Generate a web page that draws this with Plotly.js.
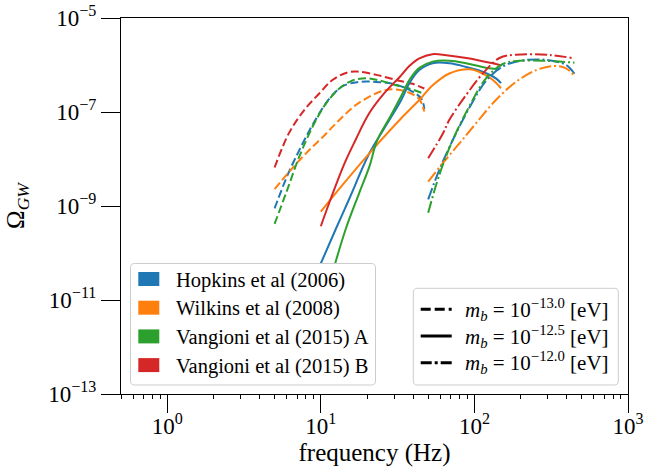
<!DOCTYPE html>
<html><head><meta charset="utf-8">
<script src="https://cdn.plot.ly/plotly-3.0.1.min.js"></script>
<style>html,body{margin:0;padding:0;background:#fff;} #chart{width:661px;height:470px;}</style>
</head><body><div id="chart"></div>
<script>
// ---------------- DATA ----------------
const models = ['Hopkins et al (2006)', 'Wilkins et al (2008)', 'Vangioni et al (2015) A', 'Vangioni et al (2015) B'];
const modelColors = ['#1f77b4', '#ff7f0e', '#2ca02c', '#d62728'];
const massLabels = ['10<sup>−13.0</sup>', '10<sup>−12.5</sup>', '10<sup>−12.0</sup>'];
const xTickVals = [1, 10, 100, 1000];
const xTickText = ['10<sup>0</sup>', '10<sup>1</sup>', '10<sup>2</sup>', '10<sup>3</sup>'];
const xMinorVals = [0.5, 0.6, 0.7, 0.8, 0.9, 2, 3, 4, 5, 6, 7, 8, 9, 20, 30, 40, 50, 60, 70, 80, 90, 200, 300, 400, 500, 600, 700, 800, 900];
const yTickVals = [1e-13, 1e-11, 1e-9, 1e-7, 1e-5];
const yTickText = ['10<sup>−13</sup>', '10<sup>−11</sup>', '10<sup>−9</sup>', '10<sup>−7</sup>', '10<sup>−5</sup>'];

// m_b = 10^-13.0 [eV]
const f_m130_hopkins = [5, 6.08, 7.43, 9.07, 11.4, 13.9, 17.8, 22.9, 29.4, 37.7, 45.0, 47.2];
const o_m130_hopkins = [8.9e-10, 4.57e-9, 1.82e-8, 6.17e-8, 1.95e-7, 3.55e-7, 4.37e-7, 4.37e-7, 3.98e-7, 2.95e-7, 1.95e-7, 1.15e-7];
const f_m130_wilkins = [5, 6.23, 8.01, 10.3, 13.2, 16.9, 21.7, 26.6, 30.9, 37.7, 43.8, 47.2];
const o_m130_wilkins = [2.29e-9, 5.37e-9, 1.32e-8, 2.95e-8, 6.76e-8, 1.41e-7, 2.29e-7, 2.95e-7, 3.02e-7, 2.57e-7, 1.86e-7, 1.02e-7];
const f_m130_vangA = [5, 5.93, 7.24, 8.85, 10.8, 13.2, 16.1, 19.7, 24.0, 30.9, 37.7, 46.0];
const o_m130_vangA = [4.17e-10, 1.86e-9, 1.12e-8, 4.9e-8, 1.51e-7, 3.16e-7, 4.68e-7, 5.25e-7, 4.68e-7, 3.72e-7, 3.16e-7, 2.51e-7];
const f_m130_vangB = [5, 6.2, 7.8, 9.8, 11.9, 14.9, 17.3, 23.0, 31.0, 39.5, 47.2];
const o_m130_vangB = [6.6e-9, 3.55e-8, 1.1e-7, 2.51e-7, 4.79e-7, 6.92e-7, 7.24e-7, 6.17e-7, 4.79e-7, 3.98e-7, 3.16e-7];

// m_b = 10^-12.5 [eV]
const f_m125_hopkins = [10, 12.6, 15.3, 20.7, 25.9, 33.4, 37.7, 43.8, 53.5, 68.7, 88.3, 113, 138, 149];
const o_m125_hopkins = [6.0e-11, 3.4e-10, 1.41e-9, 1.32e-8, 4.5e-8, 1.8e-7, 4.1e-7, 7.8e-7, 1.09e-6, 1.09e-6, 9.1e-7, 7.2e-7, 5.2e-7, 4.1e-7];
const f_m125_wilkins = [10, 14.2, 20.7, 34.1, 43.8, 53.5, 68.7, 92.7, 113, 132, 149];
const o_m125_wilkins = [7.6e-10, 3.1e-9, 1.32e-8, 7.9e-8, 1.8e-7, 3.7e-7, 6.6e-7, 8.1e-7, 6.6e-7, 4.8e-7, 3.2e-7];
const f_m125_vangA = [12.4, 14.6, 17.8, 20.7, 23.3, 28.4, 34.1, 37.7, 43.8, 53.5, 68.7, 88.3, 125, 145];
const o_m125_vangA = [6.0e-11, 3.4e-10, 1.91e-9, 6.9e-9, 2.51e-8, 8.1e-8, 2.51e-7, 4.8e-7, 8.7e-7, 1.18e-6, 1.23e-6, 1.09e-6, 8.5e-7, 8.1e-7];
const f_m125_vangB = [10, 11.65, 14.2, 16.8, 20.7, 25.9, 32.5, 37.7, 43.8, 53.2, 65.7, 88.7, 129, 150];
const o_m125_vangB = [3.7e-10, 1.48e-9, 7.8e-9, 2.51e-8, 9.5e-8, 2.51e-7, 5.5e-7, 9.5e-7, 1.38e-6, 1.7e-6, 1.62e-6, 1.41e-6, 1.1e-6, 9.8e-7];

// m_b = 10^-12.0 [eV]
const f_m120_hopkins = [50, 59.1, 72.2, 92.7, 119, 153, 196, 293, 395, 448];
const o_m120_hopkins = [1.38e-9, 5.9e-9, 2.51e-8, 1.23e-7, 4.6e-7, 9.3e-7, 1.22e-6, 1.29e-6, 1.0e-6, 6.5e-7];
const f_m120_wilkins = [50, 62.1, 79.8, 102.6, 138, 187, 253, 324, 395, 448];
const o_m120_wilkins = [3.3e-9, 8.1e-9, 2.14e-8, 5.8e-8, 1.8e-7, 4.4e-7, 7.8e-7, 9.5e-7, 8.5e-7, 5.9e-7];
const f_m120_vangA = [50, 59.1, 72.2, 92.7, 119, 153, 196, 299, 448];
const o_m120_vangA = [7.2e-10, 4.6e-9, 2.51e-8, 1.32e-7, 5.2e-7, 1.05e-6, 1.23e-6, 1.22e-6, 1.12e-6];
const f_m120_vangB = [50, 62.1, 68.7, 88.3, 113, 145.5, 187, 308, 448];
const o_m120_vangB = [1.04e-8, 3.4e-8, 6.8e-8, 2.3e-7, 6.5e-7, 1.41e-6, 1.66e-6, 1.63e-6, 1.38e-6];

// ---------------- STYLE / LAYOUT ----------------
const FONT = 'Liberation Serif';
const massDashes = ['8px,3.5px', 'solid', '12px,3px,2px,3px'];
const legendDashes = ['10px,4px', 'solid', '11px,3px,3px,3px'];
const groups = [
  [[f_m130_hopkins, o_m130_hopkins], [f_m130_wilkins, o_m130_wilkins], [f_m130_vangA, o_m130_vangA], [f_m130_vangB, o_m130_vangB]],
  [[f_m125_hopkins, o_m125_hopkins], [f_m125_wilkins, o_m125_wilkins], [f_m125_vangA, o_m125_vangA], [f_m125_vangB, o_m125_vangB]],
  [[f_m120_hopkins, o_m120_hopkins], [f_m120_wilkins, o_m120_wilkins], [f_m120_vangA, o_m120_vangA], [f_m120_vangB, o_m120_vangB]]
];

const traces = [];
groups.forEach((grp, gi) => {
  grp.forEach((xy, mi) => {
    traces.push({
      type: 'scatter', mode: 'lines', x: xy[0], y: xy[1],
      line: {color: modelColors[mi], width: 2, dash: massDashes[gi], shape: 'spline', smoothing: 1},
      showlegend: false, hoverinfo: 'skip'
    });
  });
});

// plot area in pixels
const W = 661, H = 470, L = 121, R = 628, T = 18, B = 394;
const px = v => (v - L) / (R - L);
const py = v => (B - v) / (B - T);

function roundRect(x0, y0, x1, y1, r) {
  const P = (x, y) => px(x).toFixed(5) + ',' + py(y).toFixed(5);
  return 'M' + P(x0 + r, y0) + ' L' + P(x1 - r, y0) + ' Q' + P(x1, y0) + ' ' + P(x1, y0 + r) +
    ' L' + P(x1, y1 - r) + ' Q' + P(x1, y1) + ' ' + P(x1 - r, y1) +
    ' L' + P(x0 + r, y1) + ' Q' + P(x0, y1) + ' ' + P(x0, y1 - r) +
    ' L' + P(x0, y0 + r) + ' Q' + P(x0, y0) + ' ' + P(x0 + r, y0) + ' Z';
}

const shapes = [];
const annotations = [];

// legend 1: models
shapes.push({type: 'path', xref: 'paper', yref: 'paper', path: roundRect(130.5, 263.5, 375.5, 385, 4),
  fillcolor: 'rgba(255,255,255,0.8)', line: {color: '#cccccc', width: 1}, layer: 'above'});
models.forEach((name, i) => {
  const cy = 279 + i * 28.7;
  shapes.push({type: 'rect', xref: 'paper', yref: 'paper', x0: px(138.3), x1: px(159.3), y0: py(cy + 7), y1: py(cy - 7),
    fillcolor: modelColors[i], line: {width: 0}, layer: 'above'});
  annotations.push({xref: 'paper', yref: 'paper', x: px(174), y: py(cy + 1), xanchor: 'left', yanchor: 'middle',
    text: name, showarrow: false, font: {family: FONT, size: 20.5, color: '#000'}});
});

// legend 2: masses
shapes.push({type: 'path', xref: 'paper', yref: 'paper', path: roundRect(413.3, 288.3, 618.3, 385, 4),
  fillcolor: 'rgba(255,255,255,0.8)', line: {color: '#cccccc', width: 1}, layer: 'above'});
massLabels.forEach((lab, i) => {
  const cy = 309.3 + i * 26.7;
  shapes.push({type: 'line', xref: 'paper', yref: 'paper', x0: px(420.7), x1: px(451.7), y0: py(cy), y1: py(cy),
    line: {color: '#000', width: 3, dash: legendDashes[i]}, layer: 'above'});
  annotations.push({xref: 'paper', yref: 'paper', x: px(463.3), y: py(cy), xanchor: 'left', yanchor: 'middle',
    text: '<i>m</i><sub><i>b</i></sub> = ' + lab + ' [eV]', showarrow: false,
    font: {family: FONT, size: 21, color: '#000'}});
});

const layout = {
  width: W, height: H,
  margin: {l: L, r: W - R, t: T, b: H - B, pad: 0},
  paper_bgcolor: '#fff', plot_bgcolor: '#fff',
  font: {family: FONT, color: '#000'},
  showlegend: false,
  xaxis: {
    type: 'log', range: [Math.log10(0.5), 3], autorange: false,
    showline: true, mirror: true, linecolor: '#000', linewidth: 1,
    showgrid: false, zeroline: false,
    ticks: 'outside', ticklen: 18, tickwidth: 1, tickcolor: '#000',
    ticklabelstandoff: -7,
    tickmode: 'array', tickvals: xTickVals, ticktext: xTickText,
    tickfont: {family: FONT, size: 23, color: '#000'},
    minor: {tickmode: 'array', tickvals: xMinorVals, ticks: 'outside', ticklen: 4, tickwidth: 1, tickcolor: '#000', showgrid: false},
    title: {text: 'frequency (Hz)', font: {family: FONT, size: 25, color: '#000'}, standoff: 4},
    automargin: false
  },
  yaxis: {
    type: 'log', range: [-13, -5], autorange: false,
    showline: true, mirror: true, linecolor: '#000', linewidth: 1,
    showgrid: false, zeroline: false,
    ticks: 'outside', ticklen: 19, tickwidth: 1, tickcolor: '#000',
    tickmode: 'array', tickvals: yTickVals, ticktext: yTickText,
    tickfont: {family: FONT, size: 23, color: '#000'},
    title: {text: 'Ω<sub><i>GW</i></sub>', font: {family: FONT, size: 25, color: '#000'}, standoff: 16},
    automargin: false
  },
  shapes: shapes,
  annotations: annotations
};

Plotly.newPlot('chart', traces, layout, {staticPlot: true, displayModeBar: false});
</script>
</body></html>
